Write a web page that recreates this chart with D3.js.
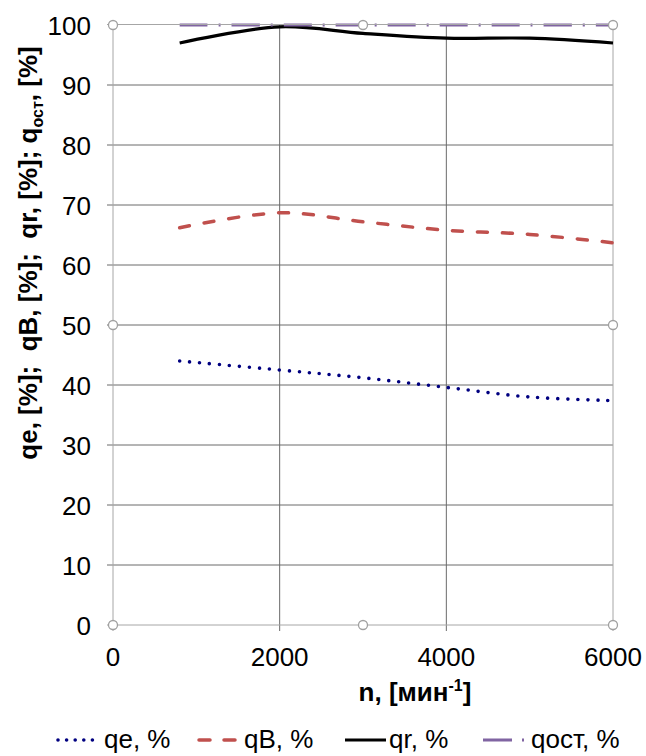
<!DOCTYPE html>
<html><head><meta charset="utf-8">
<script src="https://cdn.jsdelivr.net/npm/d3@7"></script>
<style>body{margin:0;background:#fff}svg{display:block;font-family:"Liberation Sans",Arial,sans-serif}</style>
</head><body>
<svg id="c" width="646" height="756"></svg>
<script>
const nValues = [800, 2000, 3000, 4000, 5000, 6000];
const qe = [44.0, 42.5, 41.2, 39.6, 38.0, 37.4];
const qB = [66.2, 68.7, 67.2, 65.8, 65.1, 63.7];
const qr = [97.0, 99.7, 98.6, 97.8, 97.8, 97.0];
const qost = [100, 100, 100, 100, 100, 100];
const xTicks = [0, 2000, 4000, 6000];
const yTicks = [0, 10, 20, 30, 40, 50, 60, 70, 80, 90, 100];
const seriesNames = ["qe, %", "qB, %", "qr, %", "qост, %"];

const svg = d3.select("#c");
const L = 113, R = 613, T = 25, B = 625;
const x = d3.scaleLinear().domain([0, 6000]).range([L, R]);
const y = d3.scaleLinear().domain([0, 100]).range([B, T]);

// gridlines
const g = svg.append("g");
g.selectAll(".hg").data(yTicks.filter(d => d > 0 && d < 100)).join("line")
  .attr("x1", L - 6).attr("x2", R).attr("y1", d => y(d)).attr("y2", d => y(d))
  .attr("stroke", "#6a6a6a").attr("stroke-width", 1);
g.selectAll(".vg").data(xTicks.filter(d => d > 0 && d < 6000)).join("line")
  .attr("y1", T).attr("y2", B + 6).attr("x1", d => x(d)).attr("x2", d => x(d))
  .attr("stroke", "#6a6a6a").attr("stroke-width", 1);
const bc = "#a6a6a6";
g.append("line").attr("x1", L - 6).attr("x2", R).attr("y1", y(0)).attr("y2", y(0)).attr("stroke", bc);
g.append("line").attr("x1", L).attr("x2", L).attr("y1", T).attr("y2", B + 6).attr("stroke", bc);
g.append("line").attr("x1", R).attr("x2", R).attr("y1", T).attr("y2", B + 6).attr("stroke", bc);

// axis labels
svg.append("g").selectAll("text").data(yTicks).join("text")
  .attr("x", 91).attr("y", d => y(d) + 9.5).attr("text-anchor", "end")
  .attr("font-size", 26).attr("fill", "#000").text(d => d);
svg.append("g").selectAll("text").data(xTicks).join("text")
  .attr("x", d => x(d)).attr("y", 666).attr("text-anchor", "middle")
  .attr("font-size", 26).attr("fill", "#000").text(d => d);

// x title
const xt = svg.append("text").attr("x", 415).attr("y", 701).attr("text-anchor", "middle")
  .attr("font-size", 26).attr("font-weight", "bold");
xt.append("tspan").text("n, [мин");
xt.append("tspan").attr("dy", -10).attr("font-size", 16).text("-1");
xt.append("tspan").attr("dy", 10).text("]");

// y title
const yt = svg.append("text").attr("transform", "translate(37,253) rotate(-90)")
  .attr("text-anchor", "middle").attr("font-size", 26).attr("font-weight", "bold")
  .attr("xml:space", "preserve").style("white-space", "pre");
yt.append("tspan").text("qe, [%];  qB, [%];  qr, [%]; q");
yt.append("tspan").attr("dy", 6).attr("font-size", 16).text("ост");
yt.append("tspan").attr("dy", -6).text(", [%]");

// series
const styles = [
  {data: qe, color: "#000080", w: 3.6, dash: "0,10", cap: "round", ld: "0,8.6"},
  {data: qB, color: "#c0504d", w: 3.5, dash: "10,15", cap: "round", ld: "11,14"},
  {data: qr, color: "#000000", w: 3.2, dash: null, cap: "butt", ld: null},
  {data: qost, color: "#8064a2", w: 3, dash: "28,11,2,11", cap: "butt", ld: "29,10,2,10"}
];
const line = d3.line().x((d, i) => x(nValues[i])).y(d => y(d)).curve(d3.curveCatmullRom.alpha(0.5));
styles.forEach(s => {
  svg.append("path").attr("d", line(s.data)).attr("fill", "none")
    .attr("stroke", s.color).attr("stroke-width", s.w)
    .attr("stroke-dasharray", s.dash).attr("stroke-linecap", s.cap);
});

// top border drawn over the 100% series
svg.append("line").attr("x1", L - 6).attr("x2", R).attr("y1", y(100) - 0.5).attr("y2", y(100) - 0.5)
  .attr("stroke", bc).attr("stroke-width", 1.2);

// handle circles
const handles = [[0,0],[3000,0],[6000,0],[0,50],[6000,50],[0,100],[3000,100],[6000,100]];
svg.append("g").selectAll("circle").data(handles).join("circle")
  .attr("cx", d => x(d[0])).attr("cy", d => y(d[1])).attr("r", 4.5)
  .attr("fill", "#fff").attr("stroke", "#a0a0a0").attr("stroke-width", 1.3);

// legend
const legX = [[58, 100, 104], [199, 240, 244], [345, 386, 389], [483, 528, 531]];
const lg = svg.append("g");
styles.forEach((s, i) => {
  const [a, b, t] = legX[i];
  lg.append("line").attr("x1", a).attr("x2", b).attr("y1", 740).attr("y2", 740)
    .attr("stroke", s.color).attr("stroke-width", s.w)
    .attr("stroke-dasharray", s.ld).attr("stroke-linecap", s.cap);
  lg.append("text").attr("x", t).attr("y", 748).attr("font-size", 26).text(seriesNames[i]);
});
</script>
</body></html>
